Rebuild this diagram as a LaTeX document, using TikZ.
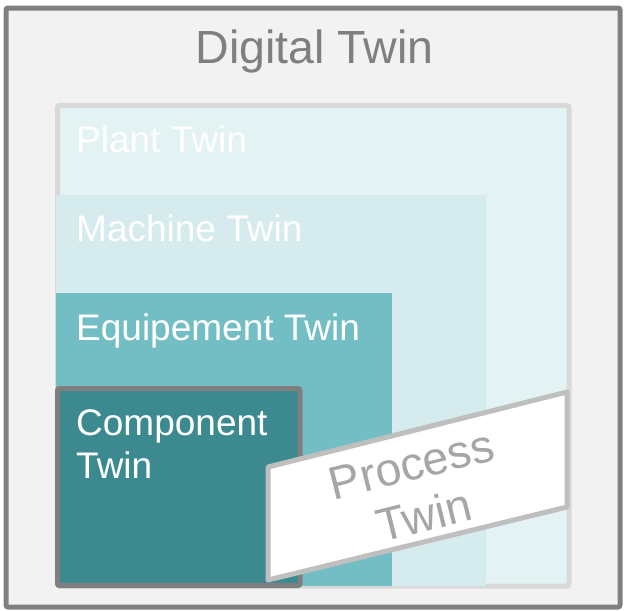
\documentclass[tikz,border=0pt]{standalone}
\usepackage{fontspec}
\setmainfont{Liberation Sans}
\definecolor{outerfill}{HTML}{F2F2F2}
\definecolor{darkgray}{HTML}{7F7F7F}
\definecolor{plantfill}{HTML}{E3F2F3}
\definecolor{plantline}{HTML}{D9D9D9}
\definecolor{machinefill}{HTML}{D6EBEE}
\definecolor{equipfill}{HTML}{72BEC4}
\definecolor{compfill}{HTML}{3C8A90}
\definecolor{procline}{HTML}{BFBFBF}
\definecolor{proctext}{HTML}{A6A6A6}
\begin{document}
\begin{tikzpicture}[x=1pt,y=-1pt,
  bigtxt/.style={inner sep=0pt, font=\fontsize{46.5}{53}\selectfont},
  lbl/.style={inner sep=0pt, text=white, font=\fontsize{37}{43}\selectfont, anchor=base west},
  frame/.style={line width=5pt, rounded corners=2pt}]
\useasboundingbox (0,0) rectangle (625,611);
% outer box
\path[frame, draw=darkgray, fill=outerfill] (6,8) rectangle (620,607);
% plant twin
\path[frame, draw=plantline, fill=plantfill] (57.5,105.5) rectangle (569,586);
% machine twin
\fill[machinefill] (56,195) rectangle (486,586);
% equipment twin
\fill[equipfill] (56,293) rectangle (392,586);
% component twin
\path[frame, draw=darkgray, fill=compfill] (57.5,388.5) rectangle (300,585.5);
% process twin
\path[line width=5pt, line join=round, draw=procline, fill=white]
  (268,467) -- (567,392) -- (567,507) -- (268,580) -- cycle;
% labels
\node[bigtxt, text=darkgray, anchor=base] (digital) at (314.5,63) {Digital Twin};
\node[lbl] (plant) at (76,152) {Plant Twin};
\node[lbl] (machine) at (76,241) {Machine Twin};
\node[lbl] (equip) at (76,340) {Equipement Twin};
\node[lbl, align=left] (comp) at (76,478) {Component\\Twin};
\node[bigtxt, text=proctext, align=center, rotate=14] (process) at (418,490) {Process\\Twin};
\end{tikzpicture}
\end{document}
